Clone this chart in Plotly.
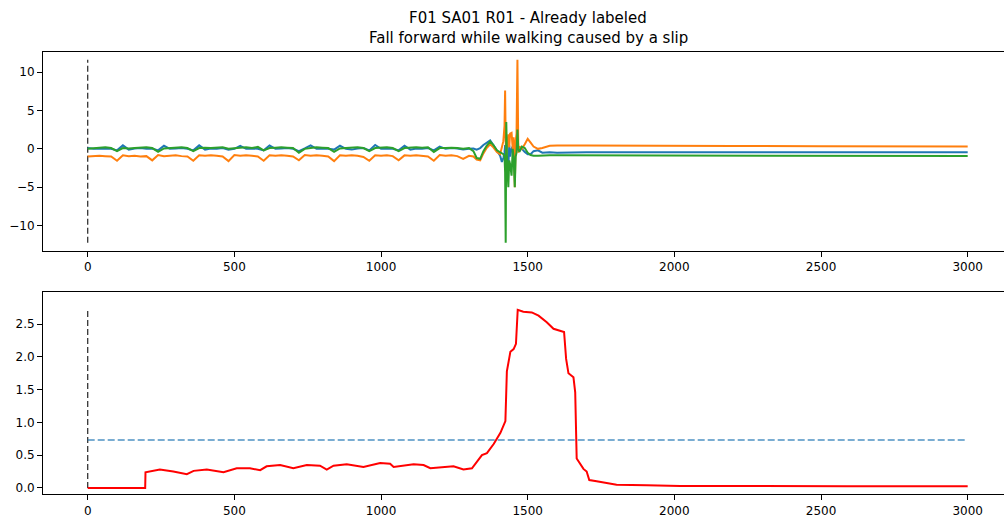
import plotly.graph_objects as go

# ---------------- data ----------------
walk_x = list(range(0, 1300, 20))
blue_walk = [0.1, 0.0, 0.05, 0.0, 0.0, -0.2, 0.45, -0.1, 0.05, 0.1, 0.0, 0.05, -0.2, 0.4, 0.0, 0.05,
             0.1, 0.0, -0.2, 0.45, -0.1, 0.05, 0.0, 0.1, -0.1, 0.0, 0.4, 0.0, 0.05, 0.0, -0.2, 0.45,
             0.0, 0.05, 0.1, 0.0, -0.3, 0.05, 0.45, 0.0, 0.05, 0.0, -0.1, 0.4, 0.0, -0.1, 0.05, 0.1,
             -0.2, 0.5, 0.0, 0.05, 0.0, -0.2, 0.4, -0.1, 0.05, 0.0, 0.1, -0.2, 0.3, 0.0, 0.1, 0.05, -0.1]
orange_walk = [-1.0, -0.95, -0.9, -0.95, -1.0, -1.55, -0.85, -0.95, -0.9, -1.0, -0.95, -1.5, -0.8,
               -0.95, -0.9, -0.85, -0.95, -1.0, -1.55, -0.85, -0.9, -0.85, -0.9, -1.0, -1.6, -0.8,
               -0.9, -0.85, -0.9, -1.0, -1.55, -0.85, -0.9, -0.85, -0.9, -1.0, -1.5, -0.8, -0.9,
               -0.85, -0.9, -1.0, -1.6, -0.85, -0.9, -0.85, -0.9, -1.05, -1.55, -0.85, -0.9, -0.85,
               -0.95, -1.5, -0.85, -0.9, -0.85, -0.9, -1.0, -1.55, -0.8, -0.9, -0.85, -0.95, -1.3]
green_walk = [0.0, 0.1, 0.15, 0.2, 0.1, -0.3, 0.1, 0.05, 0.1, 0.15, 0.2, 0.1, -0.4, 0.05, 0.1, 0.15,
              0.2, 0.1, -0.3, 0.1, 0.15, 0.1, 0.15, 0.2, 0.0, 0.1, 0.15, 0.2, 0.1, 0.25, -0.2, 0.1,
              0.15, 0.2, 0.15, 0.1, -0.5, 0.0, 0.1, 0.2, 0.15, 0.1, -0.4, 0.05, 0.1, 0.15, 0.2, 0.1,
              -0.3, 0.1, 0.15, 0.2, 0.1, -0.3, 0.1, 0.15, 0.2, 0.15, 0.2, -0.4, 0.1, 0.1, 0.15, 0.1, 0.0]

spike_x = [1300, 1315, 1326, 1338, 1349, 1360, 1372, 1383, 1395, 1406, 1412, 1417, 1421, 1423, 1425,
           1427, 1430, 1434, 1437, 1440, 1445, 1449, 1452, 1456, 1459, 1462, 1465, 1468, 1472, 1480,
           1490, 1500, 1510, 1520, 1535, 1550, 1575, 1600]
blue_spike = [0.0, 0.05, -0.1, 0.1, 0.5, 0.8, 1.1, 0.5, -0.3, -0.9, -1.7, -1.2, -0.5, 0.5, -0.5,
              -2.0, -1.0, -2.4, 0.5, -1.0, 0.0, 0.3, -0.5, -0.3, 0.2, 0.0, 0.3, -0.2, 0.1, 0.0,
              -0.4, -0.7, -0.7, -0.3, -0.2, -0.5, -0.45, -0.5]
orange_spike = [-0.9, -1.0, -1.4, -1.5, -0.6, 0.1, 0.6, 0.2, -0.4, -0.7, 0.2, 1.0, 3.0, 7.6, 1.0,
                -0.7, 0.5, 1.9, 0.2, 2.0, 2.1, 0.0, 1.5, -5.0, 1.0, 2.0, 11.6, -0.5, 0.3, 0.0,
                0.6, 1.3, 0.8, 0.3, 0.0, 0.1, 0.4, 0.45]
green_spike = [0.1, -0.3, -1.2, -1.3, -0.3, 0.4, 0.95, 0.5, -0.2, -0.5, -0.6, -0.7, -1.0, -3.0, -12.25,
               3.5, -2.0, -5.0, -1.5, -2.0, -3.5, 0.0, -1.2, -5.0, -1.0, -0.5, 2.5, 0.0, -0.4, 0.3,
               0.1, -0.5, -0.8, -0.9, -0.9, -0.85, -0.85, -0.85]

tail_x = [1700, 1800, 2000, 2200, 2500, 2800, 3000]
blue_tail = [-0.45, -0.45, -0.45, -0.45, -0.45, -0.45, -0.45]
orange_tail = [0.45, 0.42, 0.4, 0.38, 0.35, 0.32, 0.3]
green_tail = [-0.85, -0.87, -0.88, -0.9, -0.9, -0.92, -0.92]

acc_x = walk_x + spike_x + tail_x
acc_blue = blue_walk + blue_spike + blue_tail
acc_orange = orange_walk + orange_spike + orange_tail
acc_green = green_walk + green_spike + green_tail

red_x = [0, 196, 197, 246, 292, 338, 361, 406, 463, 508, 553, 588, 610, 656, 701, 747, 792, 815, 838,
         883, 940, 974, 997, 1031, 1043, 1111, 1145, 1168, 1247, 1281, 1310, 1344, 1361, 1384, 1407,
         1424, 1429, 1441, 1452, 1460, 1466, 1485, 1514, 1537, 1565, 1588, 1610, 1624, 1631, 1639,
         1656, 1662, 1667, 1679, 1690, 1701, 1710, 1735, 1769, 1803, 1906, 2020, 2300, 2531, 2588, 3000]
red_y = [0, 0, 0.237, 0.28, 0.25, 0.21, 0.26, 0.28, 0.24, 0.30, 0.30, 0.27, 0.33, 0.35, 0.30, 0.35,
         0.34, 0.28, 0.34, 0.36, 0.32, 0.36, 0.38, 0.37, 0.32, 0.36, 0.35, 0.30, 0.33, 0.28, 0.30,
         0.50, 0.53, 0.67, 0.84, 1.02, 1.78, 2.08, 2.12, 2.2, 2.72, 2.69, 2.68, 2.63, 2.53, 2.43,
         2.40, 2.38, 1.97, 1.75, 1.69, 1.46, 0.45, 0.37, 0.29, 0.25, 0.12, 0.10, 0.07, 0.05, 0.04,
         0.03, 0.03, 0.035, 0.025, 0.025]
threshold = 0.73
label_start = 0
x_ticks = [0, 500, 1000, 1500, 2000, 2500, 3000]
top_y_ticks = [-10, -5, 0, 5, 10]
bot_y_ticks = [0.0, 0.5, 1.0, 1.5, 2.0, 2.5]
title_line1 = "F01 SA01 R01 - Already labeled"
title_line2 = "Fall forward while walking caused by a slip"

# ---------------- figure ----------------
W, H = 1004, 518
FONT = "DejaVu Sans"
fig = go.Figure()

top_min = min(acc_blue + acc_orange + acc_green)
top_max = max(acc_blue + acc_orange + acc_green)
fig.add_trace(go.Scatter(x=[label_start, label_start], y=[top_min, top_max], mode="lines",
                         line=dict(color="rgba(0,0,0,0.8)", width=1.3, dash="6px,3px"),
                         xaxis="x", yaxis="y", showlegend=False))
for vals, col in [(acc_blue, "#1f77b4"), (acc_orange, "#ff7f0e"), (acc_green, "#2ca02c")]:
    fig.add_trace(go.Scatter(x=acc_x, y=vals, mode="lines", line=dict(color=col, width=2),
                             xaxis="x", yaxis="y", showlegend=False))

fig.add_trace(go.Scatter(x=[label_start, label_start], y=[min(red_y), max(red_y)], mode="lines",
                         line=dict(color="rgba(0,0,0,0.8)", width=1.3, dash="6px,3px"),
                         xaxis="x2", yaxis="y2", showlegend=False))
fig.add_trace(go.Scatter(x=[label_start, max(red_x)], y=[threshold, threshold], mode="lines",
                         line=dict(color="rgba(31,119,180,0.6)", width=2, dash="7px,3px"),
                         xaxis="x2", yaxis="y2", showlegend=False))
fig.add_trace(go.Scatter(x=red_x, y=red_y, mode="lines", line=dict(color="#ff0000", width=2),
                         xaxis="x2", yaxis="y2", showlegend=False))

def px_to_x(px):
    return (px - 87.7) / 0.29333

xr = [px_to_x(43), px_to_x(1004)]
axis_common = dict(showline=True, linecolor="black", linewidth=1, ticks="outside", ticklen=5,
                   tickwidth=1, tickcolor="black", showgrid=False, zeroline=False,
                   tickfont=dict(family=FONT, size=12, color="black"))

def fmt(v, nd):
    s = f"{v:.{nd}f}"
    return s.replace("-", "\u2212")

fig.update_layout(
    width=W, height=H, margin=dict(l=0, r=0, t=0, b=0),
    paper_bgcolor="white", plot_bgcolor="white",
    font=dict(family=FONT, size=12, color="black"),
    hovermode=False,
    xaxis=dict(domain=[43 / W, 1.0], range=xr, anchor="y", mirror=True,
               tickvals=x_ticks, ticktext=[str(v) for v in x_ticks], **axis_common),
    yaxis=dict(domain=[1 - 253 / H, 1 - 52 / H], range=[(150 - 253) / 7.733, (150 - 52) / 7.733],
               anchor="x", tickvals=top_y_ticks, ticktext=[fmt(v, 0) for v in top_y_ticks],
               **axis_common),
    xaxis2=dict(domain=[43 / W, 1.0], range=xr, anchor="y2", mirror=True,
                tickvals=x_ticks, ticktext=[str(v) for v in x_ticks], **axis_common),
    yaxis2=dict(domain=[1 - 498 / H, 1 - 294 / H], range=[(491.7 - 498) / 66, (491.7 - 294) / 66],
                anchor="x2", tickvals=bot_y_ticks, ticktext=[fmt(v, 1) for v in bot_y_ticks],
                **axis_common),
    annotations=[
        dict(text=title_line1, x=528 / W, y=1 - 18 / H, xref="paper", yref="paper",
             xanchor="center", yanchor="middle", showarrow=False,
             font=dict(family=FONT, size=15, color="black")),
        dict(text=title_line2, x=528 / W, y=1 - 38 / H, xref="paper", yref="paper",
             xanchor="center", yanchor="middle", showarrow=False,
             font=dict(family=FONT, size=15, color="black")),
    ],
)

fig.write_html("out.html", config={"displayModeBar": False, "staticPlot": True},
               post_script="document.body.style.margin='0px';document.body.style.overflow='hidden';")
